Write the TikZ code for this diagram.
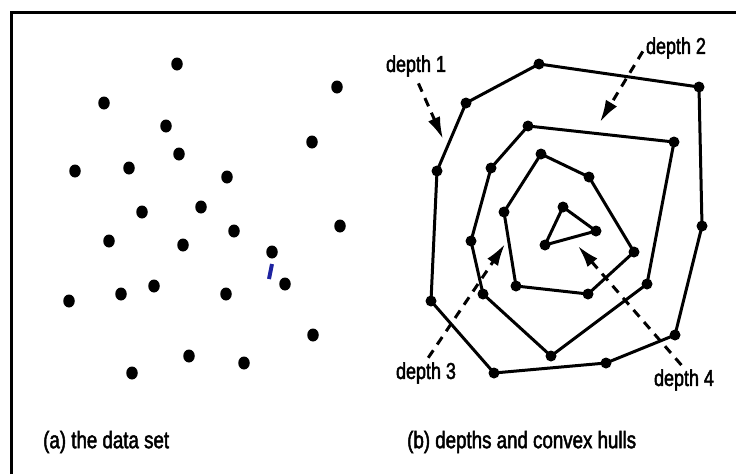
\documentclass[tikz,border=0pt]{standalone}
\usepackage{fontspec}
\setmainfont{Liberation Sans}[FakeStretch=0.78, FakeBold=2]
\usetikzlibrary{arrows.meta, positioning, shapes.geometric}
\definecolor{MarkBlue}{RGB}{30,35,160}

% puntos: profundidad 1 (1-9), 2 (10-16), 3 (17-22), 4 (23-25)
\def\datapoints{1/177/64, 2/337/87, 3/340/226, 4/313/335, 5/244/363,
	6/132/373, 7/69/301, 8/75/171, 9/104/103,
	10/166/126, 11/312/142, 12/285/284, 13/189/356, 14/121/294,
	15/109/241, 16/129/168,
	17/179/154, 18/227/177, 19/272/252, 20/226/294, 21/154/286, 22/142/212,
	23/201/207, 24/234/231, 25/183/245}

\begin{document}
\begin{tikzpicture}[x=1pt, y=-1pt,
	dot/.style={ellipse, fill=black, inner sep=0pt, minimum width=11.5pt,
		minimum height=13pt},
	vtx/.style={circle, fill=black, inner sep=0pt, minimum size=11pt},
	hull/.style={line width=3pt, line join=round},
	pointer/.style={dash pattern=on 9pt off 7pt, line width=3pt,
		-{Latex[length=22pt,width=13pt]}},
	lbl/.style={font=\fontsize{23}{25}\selectfont, inner sep=1pt},
	capt/.style={font=\fontsize{24}{26}\selectfont, inner sep=1pt, anchor=west}]
	\useasboundingbox (0,0) rectangle (736,474);
	% marco: solo arriba e izquierda
	\draw[line width=3pt] (11,474) -- (11,12) -- (736,12);
	% (a) el conjunto de datos
	\begin{scope}
		\foreach \i/\x/\y in \datapoints
			{\node[dot] (d\i) at (\x,\y) {};}
		\draw[MarkBlue, line width=4pt] (272,264) -- (269,279);
		\node[capt] (capa) at (42,442) {(a) the data set};
	\end{scope}
	% (b) profundidades y envolventes convexas
	\begin{scope}[xshift=362pt]
		\foreach \i/\x/\y in \datapoints
			{\node[vtx] (h\i) at (\x,\y) {};}
		\draw[hull] (h1.center) \foreach \k in {2,...,9}{-- (h\k.center)} -- cycle;
		\draw[hull] (h10.center) \foreach \k in {11,...,16}{-- (h\k.center)} -- cycle;
		\draw[hull] (h17.center) \foreach \k in {18,...,22}{-- (h\k.center)} -- cycle;
		\draw[hull] (h23.center) -- (h24.center) -- (h25.center) -- cycle;
	\end{scope}
	\node[capt] (capb) at (406,442) {(b) depths and convex hulls};
	% etiquetas con flechas discontinuas
	\node[lbl] (lab1) at (416,66) {depth 1};
	\node[lbl] (lab2) at (676,48) {depth 2};
	\node[lbl] (lab3) at (426,373) {depth 3};
	\node[lbl] (lab4) at (684,380) {depth 4};
	\coordinate (tip1) at (443,139);
	\coordinate (tip2) at (600,122);
	\coordinate (tip3) at (505,244);
	\coordinate (tip4) at (578,246);
	\draw[pointer, shorten <=6pt] (lab1.south) -- (tip1);
	\draw[pointer, shorten <=4pt] (lab2.west) -- (tip2);
	\draw[pointer, shorten <=4pt] (lab3.north) -- (tip3);
	\draw[pointer, shorten <=4pt] (lab4.north) -- (tip4);
\end{tikzpicture}
\end{document}
